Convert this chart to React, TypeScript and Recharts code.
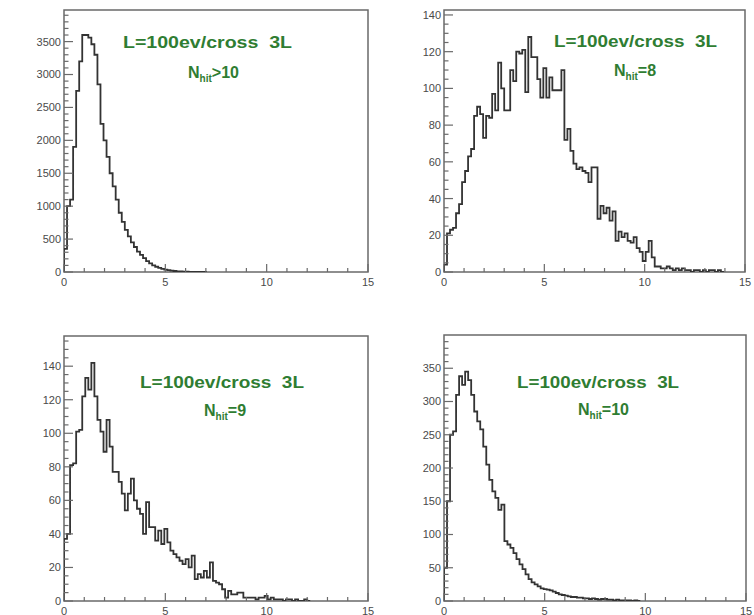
import React from 'react';
import { LineChart, Line, XAxis, YAxis, ReferenceArea } from 'recharts';

// ---- data (bin width 0.15, bins start at 0) ----
const BIN_WIDTH = 0.15;
const X_MAJOR = [0, 5, 10, 15];
const X_MINOR = [1, 2, 3, 4, 6, 7, 8, 9, 11, 12, 13, 14];

const COUNTS_NHIT_GT10 = [350, 1000, 1100, 1900, 2750, 3200, 3600, 3600, 3560, 3460, 3300, 2850, 2250, 2000, 1750, 1500, 1300, 1100, 900, 760, 640, 540, 450, 380, 310, 260, 210, 165, 130, 100, 80, 62, 48, 36, 27, 20, 15, 11, 8, 6, 4, 3, 3, 2, 1, 1, 0];
const COUNTS_NHIT_8 = [4, 21, 23, 24, 32, 37, 49, 55, 63, 67, 85, 90, 86, 73, 85, 84, 97, 88, 114, 100, 88, 88, 110, 104, 120, 119, 121, 98, 128, 117, 117, 105, 95, 111, 95, 106, 99, 99, 99, 110, 72, 78, 66, 59, 56, 57, 55, 54, 49, 57, 57, 29, 36, 32, 35, 28, 33, 17, 22, 19, 21, 17, 16, 19, 13, 11, 6, 11, 17, 8, 3, 3, 2, 2, 3, 2, 1, 2, 1, 2, 1, 1, 0, 1, 1, 0, 1, 0, 1, 1, 0, 1, 0];
const COUNTS_NHIT_9 = [37, 40, 81, 82, 101, 102, 122, 133, 126, 142, 122, 108, 101, 89, 108, 92, 77, 77, 71, 64, 54, 64, 73, 60, 55, 52, 40, 59, 44, 44, 36, 42, 34, 43, 35, 30, 28, 26, 24, 22, 25, 20, 27, 13, 16, 14, 18, 14, 23, 12, 11, 10, 7, 2, 6, 4, 4, 5, 5, 2, 2, 2, 2, 1, 2, 2, 3, 1, 2, 1, 1, 1, 0, 1, 1, 0, 1, 0, 0, 1, 0];
const COUNTS_NHIT_10 = [50, 150, 250, 255, 310, 338, 325, 345, 332, 310, 285, 270, 258, 232, 205, 182, 165, 155, 137, 145, 90, 85, 80, 72, 63, 55, 48, 40, 33, 28, 25, 22, 19, 18, 17, 16, 14, 12, 10, 9, 8, 7, 6, 6, 5, 5, 4, 4, 3, 4, 3, 2, 3, 3, 2, 2, 1, 2, 1, 1, 1, 1, 0, 1, 0];

const Y_MAJOR_GT10 = [0, 500, 1000, 1500, 2000, 2500, 3000, 3500];
const Y_MAJOR_8 = [0, 20, 40, 60, 80, 100, 120, 140];
const Y_MAJOR_9 = [0, 20, 40, 60, 80, 100, 120, 140];
const Y_MAJOR_10 = [0, 50, 100, 150, 200, 250, 300, 350];

const TITLE_LINE1 = 'L=100ev/cross  3L';
const NHIT_LABELS = ['>10', '=8', '=9', '=10'];

// ---- styles ----
const HIST = '#333333';
const FRAME = '#6a6a6a';
const LABEL = '#4a4a4a';
const GREEN = '#2f7d32';
const FONT = '"Liberation Sans", Arial, Helvetica, sans-serif';

function toSteps(counts: number[]) {
  const pts: { x: number; y: number }[] = [{ x: 0, y: 0 }];
  counts.forEach((c, i) => pts.push({ x: +(i * BIN_WIDTH).toFixed(4), y: c }));
  pts.push({ x: +(counts.length * BIN_WIDTH).toFixed(4), y: counts[counts.length - 1] });
  return pts;
}

function minorTicks(step: number, max: number) {
  const out: number[] = [];
  for (let v = 0; v <= max + 1e-9; v += step) out.push(+v.toFixed(4));
  return out;
}

type PanelProps = {
  left: number; top: number; width: number; height: number;
  margin: { top: number; right: number; bottom: number; left: number };
  yAxisWidth: number; xAxisHeight: number;
  counts: number[]; yMax: number; yMajor: number[]; yMinorStep: number; yMinorMax: number;
};

function Panel(p: PanelProps) {
  const plotLeft = p.margin.left + p.yAxisWidth;
  const plotBottom = p.height - p.margin.bottom - p.xAxisHeight;
  const data = toSteps(p.counts);
  const yTicks = Array.from(new Set([...minorTicks(p.yMinorStep, p.yMinorMax), ...p.yMajor])).sort((a, b) => a - b);
  const xTicks = [...X_MAJOR, ...X_MINOR].sort((a, b) => a - b);

  const YTick = (props: any) => {
    const { y, payload } = props;
    const v = payload.value;
    const major = p.yMajor.includes(v);
    return (
      <g>
        <line x1={plotLeft} x2={plotLeft + (major ? 9 : 4.5)} y1={y} y2={y} stroke={FRAME} strokeWidth={1.2} />
        {major && (
          <text x={plotLeft - 3} y={y} dy="0.36em" textAnchor="end" fontSize={11} fontFamily={FONT} fill={LABEL}>
            {v}
          </text>
        )}
      </g>
    );
  };
  const XTick = (props: any) => {
    const { x, payload } = props;
    const v = payload.value;
    const major = X_MAJOR.includes(v);
    return (
      <g>
        <line x1={x} x2={x} y1={plotBottom} y2={plotBottom - (major ? 8 : 4)} stroke={FRAME} strokeWidth={1.2} />
        {major && (
          <text x={x} y={plotBottom + 13.5} textAnchor="middle" fontSize={11} fontFamily={FONT} fill={LABEL}>
            {v}
          </text>
        )}
      </g>
    );
  };

  return (
    <div style={{ position: 'absolute', left: p.left, top: p.top }}>
      <LineChart width={p.width} height={p.height} data={data} margin={p.margin}>
        <XAxis type="number" dataKey="x" domain={[0, 15]} ticks={xTicks} interval={0} tick={XTick}
          tickLine={false} axisLine={false} tickSize={0} height={p.xAxisHeight} allowDataOverflow />
        <YAxis type="number" domain={[0, p.yMax]} ticks={yTicks} interval={0} tick={YTick}
          tickLine={false} axisLine={false} tickSize={0} width={p.yAxisWidth} allowDataOverflow />
        <ReferenceArea x1={0} x2={15} y1={0} y2={p.yMax} fill="none" fillOpacity={0} stroke={FRAME}
          strokeWidth={1.5} ifOverflow="visible" />
        <Line type="stepAfter" dataKey="y" stroke={HIST} strokeWidth={1.8} dot={false}
          isAnimationActive={false} />
      </LineChart>
    </div>
  );
}

function Title({ x1, w1, base1, x2, base2, suffix }: { x1: number; w1: number; base1: number; x2: number; base2: number; suffix: string }) {
  return (
    <g fontFamily={FONT} fontWeight="bold" fill={GREEN}>
      <text x={x1} y={base1} fontSize={16} textLength={w1} lengthAdjust="spacingAndGlyphs" style={{ whiteSpace: 'pre' }}>
        {TITLE_LINE1}
      </text>
      <text x={x2} y={base2} fontSize={16}>
        N<tspan fontSize={10} dy={4}>hit</tspan><tspan dy={-4}>{suffix}</tspan>
      </text>
    </g>
  );
}

export default function App() {
  return (
    <div style={{ position: 'absolute', left: 0, top: 0, width: 754, height: 615, background: '#fff', overflow: 'hidden' }}>
      <Panel left={0} top={0} width={377} height={300} margin={{ top: 10, right: 9, bottom: 0, left: 0 }}
        yAxisWidth={64} xAxisHeight={28} counts={COUNTS_NHIT_GT10} yMax={3980} yMajor={Y_MAJOR_GT10} yMinorStep={100} yMinorMax={3900} />
      <Panel left={377} top={0} width={377} height={300} margin={{ top: 10, right: 9, bottom: 0, left: 0 }}
        yAxisWidth={67} xAxisHeight={28} counts={COUNTS_NHIT_8} yMax={142.7} yMajor={Y_MAJOR_8} yMinorStep={5} yMinorMax={140} />
      <Panel left={0} top={300} width={377} height={315} margin={{ top: 36, right: 9, bottom: 0, left: 0 }}
        yAxisWidth={64} xAxisHeight={14} counts={COUNTS_NHIT_9} yMax={158} yMajor={Y_MAJOR_9} yMinorStep={5} yMinorMax={155} />
      <Panel left={377} top={300} width={377} height={315} margin={{ top: 35, right: 8, bottom: 0, left: 0 }}
        yAxisWidth={67} xAxisHeight={14} counts={COUNTS_NHIT_10} yMax={400} yMajor={Y_MAJOR_10} yMinorStep={10} yMinorMax={390} />
      <svg width={754} height={615} style={{ position: 'absolute', left: 0, top: 0, pointerEvents: 'none' }}>
        <Title x1={123} w1={169} base1={48} x2={188} base2={78} suffix={NHIT_LABELS[0]} />
        <Title x1={554} w1={163} base1={47} x2={614} base2={76} suffix={NHIT_LABELS[1]} />
        <Title x1={140} w1={164} base1={388} x2={204} base2={416} suffix={NHIT_LABELS[2]} />
        <Title x1={517} w1={162} base1={388} x2={578} base2={415} suffix={NHIT_LABELS[3]} />
      </svg>
    </div>
  );
}
